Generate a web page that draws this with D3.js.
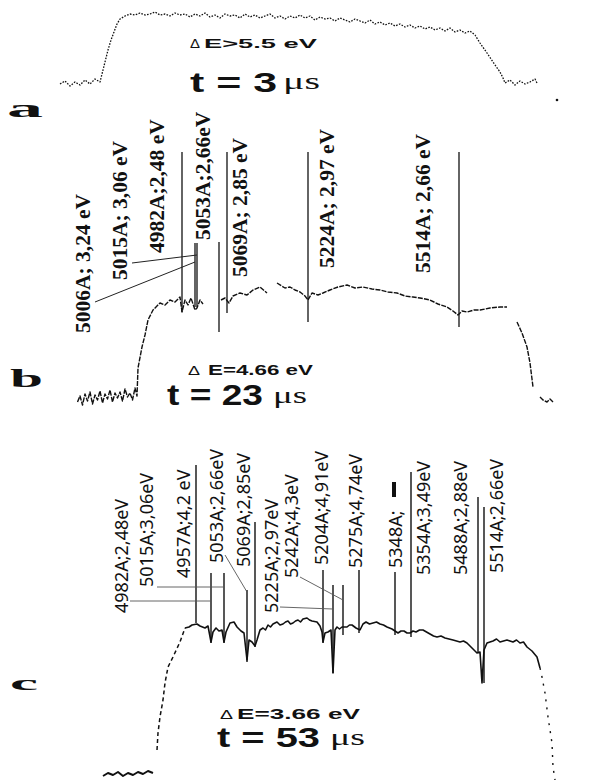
<!DOCTYPE html>
<html><head><meta charset="utf-8">
<script src="https://cdn.jsdelivr.net/npm/d3@7"></script>
<style>body{margin:0;background:#fff}svg{display:block}</style>
</head><body>
<svg id="chart" width="590" height="782"></svg>
<script>
// ---------------- DATA (channel u, intensity a.u.) ----------------
const traceA = [[4,16],[5,19],[6,14],[7,18],[8,15],[9,20],[10,16],[11,21],[12,18],
 [12.6,30],[13.2,42],[13.6,50],[14.2,60],[14.8,68],[15.4,76],[16,81],
 [17,84],[18,86],[19,85],[20,87],[21,85],[22,86],[23,88],[24,85],[25,86],[26,84],[27,87],[28,85],[29,86],[30,83],
 [31,86],[32,84],[33,87],[34,83],[35,85],[36,82],[37,86],[38,84],[39,85],[40,82],[41,86],[42,83],[43,85],[44,82],
 [45,84],[46,86],[47,82],[48,84],[49,81],[50,84],[51,82],[52,85],[53,82],[54,84],[55,80],[56,83],[57,81],[58,82],
 [59,79],[60,82],[61,80],[62,78],[63,81],[64,79],[65,77],[66,80],[67,76],[68,78],[69,75],[70,77],[71,74],[72,76],
 [73,73],[74,75],[75,72],[76,74],[77,71],[78,73],[79,70],[80,72],[81,69],[82,72],[83,68],[84,70],[85,67],[86,69],[87,65],
 [88,57],[89.4,47],[90.6,38],[92,28],[92.6,22],
 [93,17],[94,20],[95,15],[96,19],[97,16],[98,18],[99,21],[99.4,17]];
const strayA = [[103.4,0]];

const traceB = [[7.5,8],[8,14],[8.5,5],[9,16],[9.5,9],[10,18],[10.5,6],[11,15],[11.5,10],[12,19],[12.5,7],[13,16],
 [13.5,11],[14,20],[14.5,8],[15,17],[15.5,12],[16,18],[16.5,9],[17,21],[17.5,13],[18,17],[18.5,10],[19,22],[19.4,14],
 [19.6,42],[20.4,63],[21,75],[21.6,90],[22.6,100],[24,107],[25,105],[26,110],[27,108],[28,113],[28.4,98],[29,110],
 [29.6,105],[30.2,112],[31,100],[31.4,102],[32,110],[32.6,106],[33,null],
 [36.2,110],[37,112],[37.8,107],[38.6,114],[40,117],[41.4,115],[42.6,120],[44,123],[45.4,117],[46.2,null],
 [47.4,127],[49,122],[50,123],[51,120],[52,118],[53,114],[53.6,110],[54.4,117],[55.6,115],[56.6,117],[58,120],
 [59.6,123],[61.4,125],[63,122],[64.6,123],[66.4,121],[68,120],[69.6,118],[71.4,117],[73,114],[74.6,113],[76,112],
 [78,110],[79.6,106],[81.4,103],[82.6,99],[83.6,95],[84.4,99],[85.4,98],[86.8,100],[88,100],[90,102],[92,103],
 [93.4,103],[94.4,null],
 [95.4,88],[96.4,77],[97.4,63],[98,47],[98.6,23],[99,null],[100,13],[100.6,10],[101.4,8],[102,11],[102.6,8]];
const linesB = [[28.4,258,98],[31,167,103],[31.4,167,103],[35.8,168,78],[37.4,258,97],[53.6,258,88],[83.8,258,83]];
const labelsB = ["5006A; 3,24 eV","5015A; 3,06 eV","4982A;2,48 eV","5053A;2,66eV","5069A; 2,85 eV","5224A; 2,97 eV","5514A; 2,66 eV"];
const labelUB = [10,17.4,24.8,34,41.4,58.8,78];
const labelIB = [77,130,157,170,133,142,137];
const leadersB = [[11,108,31,148],[18.4,147,31.4,155]];

const cBase = [[12.6,4],[13.6,7],[14.6,5],[15.6,8],[16.6,4],[17.6,7],[18.6,5],[19.6,8],[20.6,6],[21.6,9],[22.6,7]];
const cRise = [[23.4,30],[23.6,47],[24,63],[24.6,80],[25,97],[25.6,113],[26.6,123],[28,138],[29,152]];
const cTop = [[29,152],[29.8,153],[30.4,155],[31.4,156],[32,154],[33,152],[33.6,154],
 [34.2,138],[34.6,148],[35.2,152],[35.8,149],[36.4,150],[36.8,138],[37.2,148],[38,157],[38.8,158],[39.4,153],[40.2,149],
 [40.8,147],[41.4,120],[41.8,140],[42.4,138],[43,134],[43.4,140],[44,150],[44.6,152],[45.1,150],[45.6,155],[46.1,153],[46.6,156],
 [47.4,158],[48,155],[48.6,156],[49.1,158],[49.6,159],[50.1,156],[50.6,157],[51.1,159],[51.6,160],[52.1,158],[52.6,161],[53.4,162],
 [53.9,160],[54.4,159],[55.4,158],[56,154],[56.4,148],[56.6,138],[57,147],[57.6,148],[58.2,150],[58.6,107],[59,150],
 [59.4,153],[59.9,151],[60.4,153],[61.4,153],[61.9,155],[62.4,155],[63.2,152],[64,150],[64.6,156],[65.2,158],[65.9,156],[66.6,157],
 [67.3,158],[68,156],[68.7,155],[69.4,153],[70.4,151],[71,149],[71.6,147],[72.2,149],[72.8,149],[73.4,147],[74,147],[74.6,149],[75.2,148],
 [75.9,150],[76.6,150],[77.3,148],[78,146],[78.7,144],[79.4,143],[80.2,144],[81,142],[81.8,141],[82.6,140],[83.3,139],[84,138],
 [84.7,139],[85.4,137],[86.4,132],[87.4,127],[88,128],[88.4,97],[88.8,130],[89.4,137],[90,138],[90.6,139],[91.3,141],[92,138],
 [92.7,139],[93.4,140],[94,139],[94.6,138],[95.3,140],[96,137],[96.7,138],[97.4,133],[98.4,129],[99.4,123],[100,112]];
const cFall = [[100,112],[100.4,103],[101,87],[101.6,63],[102.4,37],[102.6,13],[103,0]];
const linesC = [[31.2,315,157],[34.2,207,137],[36.8,207,137],[41.4,190,118],[43,258,133],[56.6,210,137],[58.6,195,107],
 [60.6,195,145],[63.8,210,147],[71,208,145],[74.2,308,143],[87.6,283,127],[88.8,273,97]];
const labelsC = ["4982A;2,48eV","5015A;3,06eV","4957A;4,2 eV","5053A;2,66eV","5069A;2,85eV","5225A;2,97eV","5242A;4,3eV",
 "5204A;4,91eV","5275A;4,74eV","5348A;","5354A;3,49eV","5488A;2,88eV","5514A;2,66eV"];
const labelUC = [17.6,22.6,30,36.6,42,47.6,51.6,57.6,64.4,72.4,78,85.4,92.6];
const labelIC = [167,193,202,217,213,167,202,215,212,212,205,205,207];
const leadersC = [[18,179,34.2,179],[23.4,193,36.8,193],[37,225,41.4,188],[48,173,58.6,171],[52,203,60.6,180]];

const panelLetters = ["a","b","c"];
const deltaE = ["E>5.5 eV","E=4.66 eV","E=3.66 eV"];
const times = ["t = 3","t = 23","t = 53"];

// ---------------- SCALES ----------------
const svg = d3.select("#chart");
const x = d3.scaleLinear().domain([0,104]).range([40,560]);
const yA = d3.scaleLinear().domain([0,100]).range([100,0]);
const yB = d3.scaleLinear().domain([0,100]).range([410,310]);
const yC = d3.scaleLinear().domain([0,100]).range([780,680]);

function linePath(y){
  return d3.line().defined(d=>d[1]!==null).x(d=>x(d[0])).y(d=>y(d[1]));
}
function drawTrace(data,y,opts){
  svg.append("path").datum(data).attr("d",linePath(y)).attr("fill","none")
    .attr("stroke","#111").attr("stroke-width",opts.w||1.3)
    .attr("stroke-dasharray",opts.dash||null).attr("stroke-linejoin","round");
}
function drawLines(lines,y,w){
  svg.append("g").selectAll("line").data(lines).join("line")
    .attr("x1",d=>x(d[0])).attr("x2",d=>x(d[0])).attr("y1",d=>y(d[1])).attr("y2",d=>y(d[2]))
    .attr("stroke","#111").attr("stroke-width",w);
}
function drawLeaders(ls,y,col,w){
  svg.append("g").selectAll("line").data(ls).join("line")
    .attr("x1",d=>x(d[0])).attr("y1",d=>y(d[1])).attr("x2",d=>x(d[2])).attr("y2",d=>y(d[3]))
    .attr("stroke",col).attr("stroke-width",w);
}
function drawLabels(texts,us,is,y,font,size,weight){
  svg.append("g").selectAll("text").data(texts).join("text")
    .attr("transform",(d,i)=>`translate(${x(us[i])},${y(is[i])}) rotate(-90)`)
    .attr("font-family",font).attr("font-size",size).attr("font-weight",weight)
    .attr("fill","#111").text(d=>d);
}
function fitText(str,px,py,w,font,size,weight){
  const t = svg.append("text").attr("font-family",font).attr("font-size",size)
    .attr("font-weight",weight).attr("fill","#111").text(str);
  const bw = t.node().getComputedTextLength();
  t.attr("transform",`translate(${px},${py}) scale(${w/bw},1)`);
  return t;
}

// ---------------- PANEL A ----------------
drawTrace(traceA,yA,{w:1.3,dash:"1.6,1.4"});
svg.append("g").selectAll("circle").data(strayA).join("circle")
  .attr("cx",d=>x(d[0])).attr("cy",d=>yA(d[1])).attr("r",1.3).attr("fill","#111");

// ---------------- PANEL B ----------------
drawTrace(traceB,yB,{w:1.4,dash:"5,1.2"});
drawLines(linesB,yB,1.3);
drawLeaders(leadersB,yB,"#222",1);
drawLabels(labelsB,labelUB,labelIB,yB,"'Liberation Serif','Times New Roman',serif",21.5,"bold");

// ---------------- PANEL C ----------------
drawTrace(cBase,yC,{w:2});
drawTrace(cRise,yC,{w:1.5,dash:"4,3"});
drawTrace(cTop,yC,{w:1.6});
drawTrace(cFall,yC,{w:1.4,dash:"2,6"});
drawLines(linesC,yC,1.4);
drawLeaders(leadersC,yC,"#555",0.9);
drawLabels(labelsC,labelUC,labelIC,yC,"'Noto Sans',sans-serif",18,"normal");
// bold dash after 5348A;
const i5348 = labelsC.indexOf("5348A;");
svg.append("rect").attr("x",x(labelUC[i5348])-10).attr("y",yC(labelIC[i5348])-86)
  .attr("width",4).attr("height",15).attr("fill","#111");

// ---------------- TEXT ----------------
const sans="'Liberation Sans',Arial,sans-serif", serif="'Liberation Serif','Times New Roman',serif";
fitText(panelLetters[0],7,117,36,serif,26,"bold");
fitText(panelLetters[1],10,387,33,serif,25,"bold");
fitText(panelLetters[2],10,690,28,serif,22,"bold");
[[190,48,10,204,113],[188,375,12,208,105],[220,719,13,237,123]].forEach((p,i)=>{
  fitText("Δ",p[0],p[1],p[2],sans,12,"normal");
  fitText(deltaE[i],p[3],p[1],p[4],sans,i===0?13:15,"bold");
});
[[190,92,87,283,89,37,28],[167,405,96,273,403,34,30],[217,747,103,330,745,35,27]].forEach((p,i)=>{
  fitText(times[i],p[0],p[1],p[2],sans,p[6],"bold");
  fitText("μs",p[3],p[4],p[5],serif,24,"normal");
});
</script>
</body></html>
